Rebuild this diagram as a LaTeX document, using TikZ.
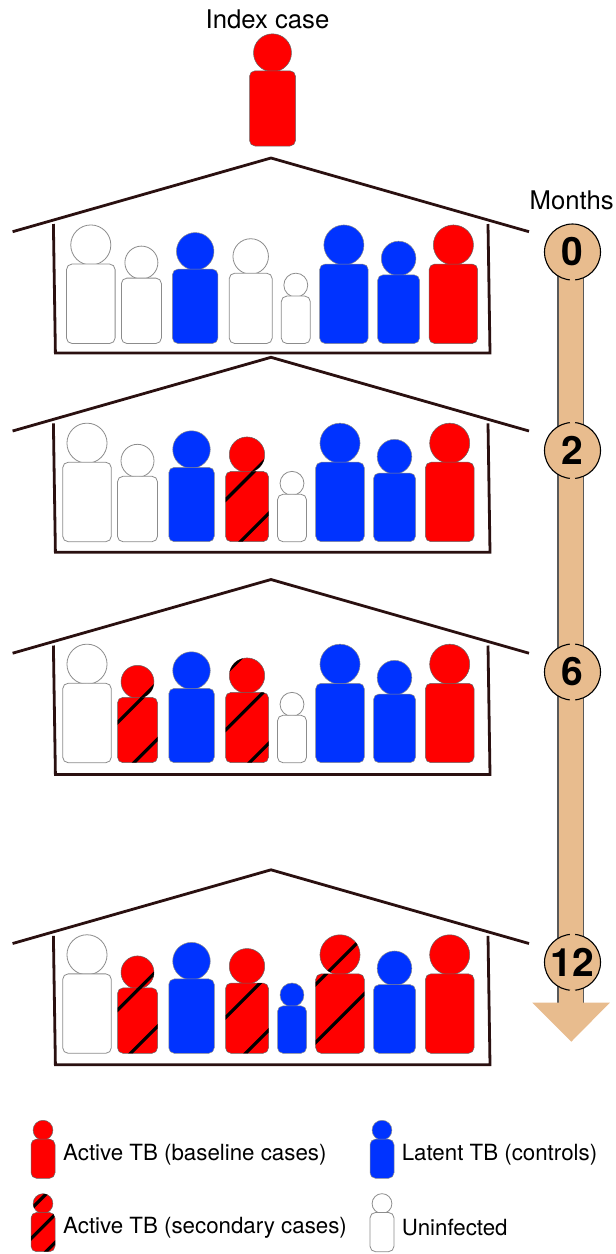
\documentclass[tikz,border=0pt]{standalone}
\usepackage{fontspec}
\setmainfont{TeX Gyre Heros}
\usepackage{tikz}

\definecolor{tbred}{HTML}{FF0000}
\definecolor{tbblue}{HTML}{0033FF}
\definecolor{barTan}{HTML}{E8BC8E}
\definecolor{wallInk}{HTML}{2A1010}

\tikzset{
  activeTB/.style={fill=tbred, draw=black!60, line width=0.5pt},
  latentTB/.style={fill=tbblue, draw=black!45, line width=0.5pt},
  noTB/.style={fill=white, draw=black!45, line width=0.8pt},
  houseline/.style={draw=wallInk, line width=2.8pt, line cap=butt, line join=miter},
  monthdot/.style={circle, draw=black, line width=1.1pt, fill=barTan, minimum size=56pt, inner sep=0pt,
    font=\fontsize{39}{39}\selectfont\bfseries},
  toplabel/.style={font=\fontsize{25.7}{28}\selectfont, inner sep=0pt},
  keylabel/.style={font=\fontsize{22.3}{24}\selectfont, inner sep=0pt, anchor=west}
}

% One person: style, centre x, bottom y, body width
\newcommand{\person}[4]{%
  \pgfmathsetmacro{\bodyh}{1.635*#4}
  \pgfmathsetmacro{\headr}{0.4125*#4}
  \pgfmathsetmacro{\headc}{#3-\bodyh+1-\headr}
  \draw[#1] (#2,\headc) circle (\headr);
  \draw[#1, rounded corners=5.5pt] (#2-#4/2,#3) rectangle ++(#4,-\bodyh);
}
% Black bands over a person: centre x, bottom y, body width, band offsets
\newcommand{\sickbands}[4]{%
  \pgfmathsetmacro{\bodyh}{1.635*#3}
  \pgfmathsetmacro{\headr}{0.4125*#3}
  \pgfmathsetmacro{\headc}{#2-\bodyh+1-\headr}
  \begin{scope}
    \clip[rounded corners=5.5pt] (#1-#3/2,#2) rectangle ++(#3,-\bodyh);
    \foreach \off in {#4} {
      \draw[black, line width=3.2pt] (#1-#3/2-5,#2-\off+5) -- ++(#3+10,-#3-10);
    }
  \end{scope}
  \begin{scope}
    \clip (#1,\headc) circle (\headr);
    \foreach \off in {#4} {
      \draw[black, line width=3.2pt] (#1-#3/2-5,#2-\off+5) -- ++(#3+10,-#3-10);
    }
  \end{scope}
}
% Roof and walls, moved down by an offset
\newcommand{\house}[1]{%
  \draw[houseline] (12.6,231.7+#1) -- (271,158+#1) -- (529,231.7+#1);
  \draw[houseline] (53.4,224+#1) -- (55.4,353+#1) -- (490,353+#1) -- (488,224+#1);
}

\begin{document}
\begin{tikzpicture}[x=1pt, y=-1pt]
  \useasboundingbox (0,0) rectangle (616,1254);

  % Index case
  \node[toplabel] (indexlabel) at (267.5,19) {Index case};
  \person{activeTB}{272.5}{146}{46}

  % Houses
  \foreach \shift in {0,199.3,421.5,711.8} {
    \house{\shift}
  }

  % Month 0
  \person{noTB}{90.8}{343.5}{48.6}
  \person{noTB}{141.4}{343.5}{40}
  \person{latentTB}{195.2}{343.5}{45.5}
  \person{noTB}{250.7}{343.5}{43}
  \person{noTB}{295.8}{343.5}{29}
  \person{latentTB}{343.9}{343.5}{48.6}
  \person{latentTB}{398.6}{343.5}{42}
  \person{activeTB}{453.4}{343.5}{48.6}

  % Month 2
  \person{noTB}{87}{541.7}{48.6}
  \person{noTB}{137.5}{541.7}{40}
  \person{latentTB}{191.5}{541.7}{45.5}
  \person{activeTB}{247}{541.7}{43}
  \sickbands{247}{541.7}{43}{41.7,-15}
  \person{noTB}{292}{541.7}{29}
  \person{latentTB}{340}{541.7}{48.6}
  \person{latentTB}{394.5}{541.7}{42}
  \person{activeTB}{449.7}{541.7}{48.6}

  % Month 6
  \person{noTB}{87}{762.7}{48.6}
  \person{activeTB}{137.5}{762.7}{40}
  \sickbands{137.5}{762.7}{40}{40,-16.5}
  \person{latentTB}{191.5}{762.7}{45.5}
  \person{activeTB}{247}{762.7}{43}
  \sickbands{247}{762.7}{43}{89,32.7,-24}
  \person{noTB}{292}{762.7}{29}
  \person{latentTB}{340}{762.7}{48.6}
  \person{latentTB}{394.5}{762.7}{42}
  \person{activeTB}{449.7}{762.7}{48.6}

  % Month 12
  \person{noTB}{87}{1053.3}{48.6}
  \person{activeTB}{137.5}{1053.3}{40}
  \sickbands{137.5}{1053.3}{40}{43.3,-13}
  \person{latentTB}{191.5}{1053.3}{45.5}
  \person{activeTB}{247}{1053.3}{43}
  \sickbands{247}{1053.3}{43}{35.7,-20}
  \person{latentTB}{292}{1053.3}{29}
  \person{activeTB}{340}{1053.3}{48.6}
  \sickbands{340}{1053.3}{48.6}{69,11}
  \person{latentTB}{394.5}{1053.3}{42}
  \person{activeTB}{449.7}{1053.3}{48.6}

  % Timeline
  \node[toplabel] (monthslabel) at (571.7,200.7) {Months};
  \coordinate (barend) at (570.6,1004);
  \coordinate (tipleft) at (532.4,1002.7);
  \coordinate (tipright) at (609.8,1002.7);
  \coordinate (tip) at (571.3,1041.7);
  \coordinate (barstart) at (570.6,252);
  \draw[draw=black!65, double=barTan, double distance=24pt, line width=1.2pt] (barstart) -- (barend);
  \fill[barTan] (tipleft) -- (tipright) -- (tip) -- cycle;
  \node[monthdot] (m0) at (572.5,252) {0};
  \node[monthdot] (m2) at (572.5,450.5) {2};
  \node[monthdot] (m6) at (572.5,672) {6};
  \node[monthdot] (m12) at (572.5,962.3) {12};

  % Breaks in the rings where the bar passes
  \fill[barTan] (m0.south) circle (2.8);
  \foreach \ring in {m2,m6,m12} {
    \fill[barTan] (\ring.north) circle (2.8);
    \fill[barTan] (\ring.south) circle (2.8);
  }

  % Key
  \person{activeTB}{43}{1178.3}{24}
  \node[keylabel] (keybaseline) at (63,1155) {Active TB (baseline cases)};
  \person{latentTB}{382}{1178.3}{24}
  \node[keylabel] (keylatent) at (401.6,1155) {Latent TB (controls)};
  \person{activeTB}{43}{1251.7}{24}
  \sickbands{43}{1251.7}{24}{42.6,13,-15}
  \node[keylabel] (keysecondary) at (63,1228) {Active TB (secondary cases)};
  \person{noTB}{382}{1251.7}{24}
  \node[keylabel] (keyuninfected) at (401.6,1228) {Uninfected};
\end{tikzpicture}
\end{document}
